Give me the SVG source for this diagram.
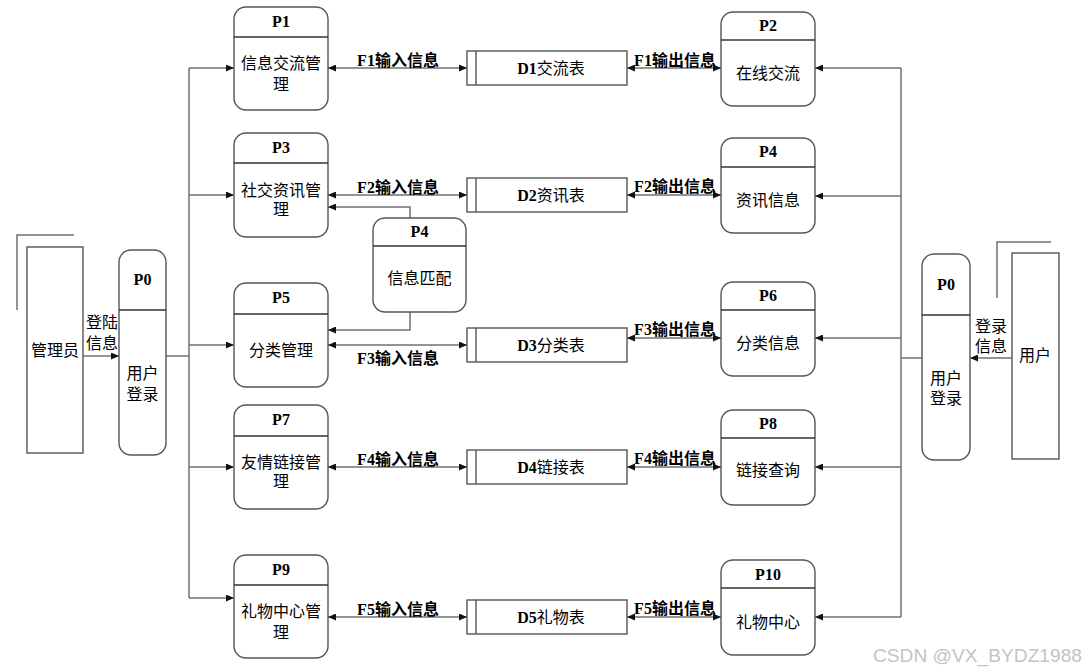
<svg xmlns="http://www.w3.org/2000/svg" width="1089" height="672" viewBox="0 0 1089 672">
<defs>
<marker id="ah" viewBox="0 0 8 7" refX="8" refY="3.5" markerWidth="8" markerHeight="7" markerUnits="userSpaceOnUse" orient="auto-start-reverse"><path d="M0,0 L8,3.5 L0,7 z" fill="#111"/></marker>
</defs>
<style>
.box{fill:#fff;stroke:#555;stroke-width:1.4}
.div{stroke:#333;stroke-width:1.5}
.ln{fill:none;stroke:#707070;stroke-width:1.5}
.t{font-family:"Liberation Serif","Noto Sans CJK SC",serif;font-size:16px;fill:#000;text-anchor:middle}
.h{font-family:"Liberation Serif","Noto Sans CJK SC",serif;font-size:16px;font-weight:bold;fill:#000;text-anchor:middle}
.f{font-family:"Liberation Serif","Noto Sans CJK SC",serif;font-size:16px;font-weight:bold;fill:#000;text-anchor:middle}
.b{font-weight:bold}
.wm{font-family:"Liberation Sans",Arial,sans-serif;font-size:18px;fill:#c4c4c4}
</style>
<rect width="1089" height="672" fill="#fff"/>

<g id="connectors">
<line class="ln" x1="83" y1="356" x2="119" y2="356" marker-end="url(#ah)"/>
<line class="ln" x1="166" y1="356" x2="189" y2="356"/>
<line class="ln" x1="189" y1="68" x2="189" y2="598"/>
<line class="ln" x1="189" y1="68" x2="234" y2="68" marker-end="url(#ah)"/>
<line class="ln" x1="189" y1="195" x2="234" y2="195" marker-end="url(#ah)"/>
<line class="ln" x1="189" y1="345" x2="234" y2="345" marker-end="url(#ah)"/>
<line class="ln" x1="189" y1="467" x2="234" y2="467" marker-end="url(#ah)"/>
<line class="ln" x1="189" y1="598" x2="234" y2="598" marker-end="url(#ah)"/>

<line class="ln" x1="328" y1="68" x2="467" y2="68" marker-start="url(#ah)" marker-end="url(#ah)"/>
<line class="ln" x1="328" y1="195" x2="467" y2="195" marker-start="url(#ah)" marker-end="url(#ah)"/>
<line class="ln" x1="328" y1="345" x2="467" y2="345" marker-start="url(#ah)" marker-end="url(#ah)"/>
<line class="ln" x1="328" y1="467" x2="467" y2="467" marker-start="url(#ah)" marker-end="url(#ah)"/>
<line class="ln" x1="328" y1="617" x2="467" y2="617" marker-start="url(#ah)" marker-end="url(#ah)"/>

<line class="ln" x1="627" y1="68" x2="721" y2="68" marker-start="url(#ah)" marker-end="url(#ah)"/>
<line class="ln" x1="627" y1="195" x2="721" y2="195" marker-start="url(#ah)" marker-end="url(#ah)"/>
<line class="ln" x1="627" y1="338" x2="721" y2="338" marker-start="url(#ah)" marker-end="url(#ah)"/>
<line class="ln" x1="627" y1="467" x2="721" y2="467" marker-start="url(#ah)" marker-end="url(#ah)"/>
<line class="ln" x1="627" y1="617" x2="721" y2="617" marker-start="url(#ah)" marker-end="url(#ah)"/>

<polyline class="ln" points="410,218 410,207 328,207" marker-end="url(#ah)"/>
<polyline class="ln" points="410,312 410,330 328,330" marker-end="url(#ah)"/>

<line class="ln" x1="901" y1="68" x2="901" y2="617"/>
<line class="ln" x1="901" y1="68" x2="815" y2="68" marker-end="url(#ah)"/>
<line class="ln" x1="901" y1="196" x2="815" y2="196" marker-end="url(#ah)"/>
<line class="ln" x1="901" y1="338" x2="815" y2="338" marker-end="url(#ah)"/>
<line class="ln" x1="901" y1="467" x2="815" y2="467" marker-end="url(#ah)"/>
<line class="ln" x1="901" y1="617" x2="815" y2="617" marker-end="url(#ah)"/>
<line class="ln" x1="901" y1="358" x2="922" y2="358"/>
<line class="ln" x1="1012" y1="358" x2="970" y2="358" marker-end="url(#ah)"/>

<text class="f" x="398" y="66">F1输入信息</text>
<text class="f" x="398" y="193">F2输入信息</text>
<text class="f" x="398" y="364">F3输入信息</text>
<text class="f" x="398" y="465">F4输入信息</text>
<text class="f" x="398" y="615">F5输入信息</text>
<text class="f" x="675" y="66">F1输出信息</text>
<text class="f" x="675" y="192">F2输出信息</text>
<text class="f" x="675" y="335">F3输出信息</text>
<text class="f" x="675" y="464">F4输出信息</text>
<text class="f" x="675" y="614">F5输出信息</text>
<text class="t" x="102" y="328">登陆</text>
<text class="t" x="102" y="349">信息</text>
<text class="t" x="991" y="332">登录</text>
<text class="t" x="991" y="352">信息</text>
</g>

<g id="admin">
<polyline class="ln" points="17,310 17,235 74,235"/>
<rect class="box" x="27" y="247" width="56" height="206"/>
<text class="t" x="55" y="356">管理员</text>
</g>

<g id="user">
<polyline class="ln" points="997,298 997,242 1051,242"/>
<rect class="box" x="1012" y="253" width="47" height="206"/>
<text class="t" x="1035" y="361">用户</text>
</g>

<g id="P0L">
<rect class="box" x="119" y="250" width="47" height="205" rx="12"/>
<line class="div" x1="119" y1="310" x2="166" y2="310"/>
<text class="h" x="142.5" y="285">P0</text>
<text class="t" x="142.5" y="379">用户</text>
<text class="t" x="142.5" y="400">登录</text>
</g>

<g id="P0R">
<rect class="box" x="922" y="254" width="48" height="206" rx="12"/>
<line class="div" x1="922" y1="315" x2="970" y2="315"/>
<text class="h" x="946" y="290">P0</text>
<text class="t" x="946" y="384">用户</text>
<text class="t" x="946" y="404">登录</text>
</g>

<g id="P1">
<rect class="box" x="234" y="7" width="94" height="103" rx="12"/>
<line class="div" x1="234" y1="37" x2="328" y2="37"/>
<text class="h" x="281" y="27">P1</text>
<text class="t" x="281" y="69">信息交流管</text>
<text class="t" x="281" y="90">理</text>
</g>

<g id="P3">
<rect class="box" x="234" y="133" width="94" height="104" rx="12"/>
<line class="div" x1="234" y1="163" x2="328" y2="163"/>
<text class="h" x="281" y="153">P3</text>
<text class="t" x="281" y="196">社交资讯管</text>
<text class="t" x="281" y="215">理</text>
</g>

<g id="P4M">
<rect class="box" x="373" y="218" width="93" height="94" rx="12"/>
<line class="div" x1="373" y1="246" x2="466" y2="246"/>
<text class="h" x="419.5" y="237">P4</text>
<text class="t" x="419.5" y="284">信息匹配</text>
</g>

<g id="P5">
<rect class="box" x="234" y="283" width="94" height="104" rx="12"/>
<line class="div" x1="234" y1="314" x2="328" y2="314"/>
<text class="h" x="281" y="303">P5</text>
<text class="t" x="281" y="356">分类管理</text>
</g>

<g id="P7">
<rect class="box" x="234" y="405" width="94" height="104" rx="12"/>
<line class="div" x1="234" y1="436" x2="328" y2="436"/>
<text class="h" x="281" y="425">P7</text>
<text class="t" x="281" y="468">友情链接管</text>
<text class="t" x="281" y="487">理</text>
</g>

<g id="P9">
<rect class="box" x="234" y="555" width="94" height="103" rx="12"/>
<line class="div" x1="234" y1="585" x2="328" y2="585"/>
<text class="h" x="281" y="575">P9</text>
<text class="t" x="281" y="617">礼物中心管</text>
<text class="t" x="281" y="638">理</text>
</g>

<g id="D1">
<rect class="box" x="467" y="51" width="160" height="34"/>
<line class="box" x1="476" y1="51" x2="476" y2="85"/>
<text class="t" x="551" y="74"><tspan class="b">D1</tspan>交流表</text>
</g>
<g id="D2">
<rect class="box" x="467" y="178" width="160" height="34"/>
<line class="box" x1="476" y1="178" x2="476" y2="212"/>
<text class="t" x="551" y="201"><tspan class="b">D2</tspan>资讯表</text>
</g>
<g id="D3">
<rect class="box" x="467" y="328" width="160" height="34"/>
<line class="box" x1="476" y1="328" x2="476" y2="362"/>
<text class="t" x="551" y="351"><tspan class="b">D3</tspan>分类表</text>
</g>
<g id="D4">
<rect class="box" x="467" y="450" width="160" height="34"/>
<line class="box" x1="476" y1="450" x2="476" y2="484"/>
<text class="t" x="551" y="473"><tspan class="b">D4</tspan>链接表</text>
</g>
<g id="D5">
<rect class="box" x="467" y="600" width="160" height="34"/>
<line class="box" x1="476" y1="600" x2="476" y2="634"/>
<text class="t" x="551" y="623"><tspan class="b">D5</tspan>礼物表</text>
</g>

<g id="P2">
<rect class="box" x="721" y="12" width="94" height="94" rx="12"/>
<line class="div" x1="721" y1="40" x2="815" y2="40"/>
<text class="h" x="768" y="31">P2</text>
<text class="t" x="768" y="79">在线交流</text>
</g>
<g id="P4R">
<rect class="box" x="721" y="138" width="94" height="95" rx="12"/>
<line class="div" x1="721" y1="167" x2="815" y2="167"/>
<text class="h" x="768" y="157">P4</text>
<text class="t" x="768" y="206">资讯信息</text>
</g>
<g id="P6">
<rect class="box" x="721" y="282" width="94" height="94" rx="12"/>
<line class="div" x1="721" y1="310" x2="815" y2="310"/>
<text class="h" x="768" y="301">P6</text>
<text class="t" x="768" y="349">分类信息</text>
</g>
<g id="P8">
<rect class="box" x="721" y="410" width="94" height="95" rx="12"/>
<line class="div" x1="721" y1="438" x2="815" y2="438"/>
<text class="h" x="768" y="429">P8</text>
<text class="t" x="768" y="476">链接查询</text>
</g>
<g id="P10">
<rect class="box" x="721" y="560" width="94" height="95" rx="12"/>
<line class="div" x1="721" y1="588" x2="815" y2="588"/>
<text class="h" x="768" y="580">P10</text>
<text class="t" x="768" y="628">礼物中心</text>
</g>

<text class="wm" x="873" y="662" textLength="209" lengthAdjust="spacingAndGlyphs">CSDN @VX_BYDZ1988</text>
</svg>
